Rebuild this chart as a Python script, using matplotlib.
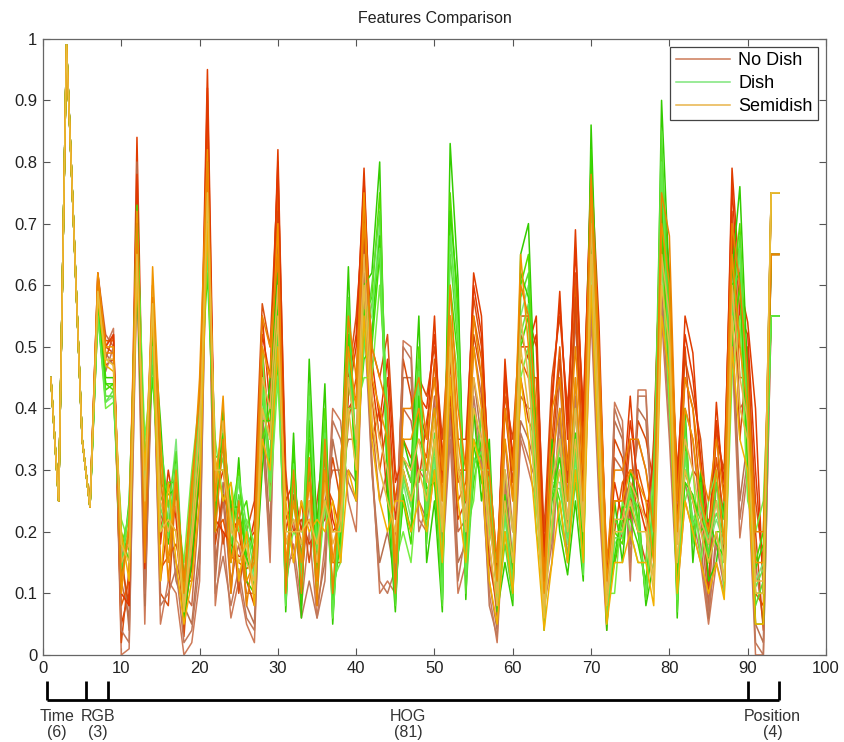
import numpy as np
import matplotlib
matplotlib.use("Agg")
import matplotlib.pyplot as plt
import matplotlib.transforms as mtransforms

plt.rcParams['font.family'] = ['Liberation Sans', 'DejaVu Sans']

# Features 1-6 (time) are the same for every sample
TIME = [0.45, 0.25, 0.99, 0.67, 0.35, 0.24]

# Normalised feature values for features 7..94 (RGB, HOG, position)
nodish_1 = TIME + [
    0.58, 0.50, 0.53, 0.00, 0.01, 0.62, 0.05, 0.55, 0.05, 0.12,
    0.10, 0.00, 0.02, 0.12, 0.78, 0.08, 0.20, 0.06, 0.12, 0.05,
    0.02, 0.38, 0.15, 0.62, 0.12, 0.18, 0.08, 0.20, 0.06, 0.18,
    0.40, 0.38, 0.25, 0.20, 0.58, 0.32, 0.10, 0.12, 0.10, 0.51,
    0.50, 0.22, 0.20, 0.30, 0.15, 0.35, 0.10, 0.15, 0.40, 0.30,
    0.10, 0.02, 0.25, 0.10, 0.35, 0.30, 0.25, 0.08, 0.15, 0.35,
    0.15, 0.40, 0.20, 0.55, 0.25, 0.04, 0.41, 0.38, 0.12, 0.43,
    0.43, 0.15, 0.55, 0.35, 0.10, 0.25, 0.20, 0.15, 0.05, 0.15,
    0.10, 0.50, 0.19, 0.30, 0.00, 0.00, 0.55, 0.55]
nodish_2 = TIME + [
    0.60, 0.47, 0.48, 0.05, 0.10, 0.84, 0.20, 0.60, 0.18, 0.30,
    0.22, 0.06, 0.15, 0.35, 0.95, 0.25, 0.30, 0.20, 0.22, 0.18,
    0.20, 0.55, 0.40, 0.82, 0.25, 0.28, 0.20, 0.30, 0.18, 0.30,
    0.20, 0.22, 0.42, 0.50, 0.79, 0.45, 0.35, 0.45, 0.22, 0.30,
    0.25, 0.40, 0.35, 0.55, 0.28, 0.52, 0.30, 0.30, 0.62, 0.55,
    0.25, 0.10, 0.48, 0.30, 0.50, 0.50, 0.55, 0.15, 0.40, 0.59,
    0.35, 0.69, 0.35, 0.80, 0.54, 0.12, 0.25, 0.25, 0.42, 0.25,
    0.20, 0.30, 0.77, 0.62, 0.25, 0.55, 0.49, 0.30, 0.15, 0.41,
    0.25, 0.79, 0.60, 0.54, 0.40, 0.10, 0.65, 0.65]
nodish_3 = TIME + [
    0.62, 0.52, 0.50, 0.12, 0.06, 0.72, 0.12, 0.52, 0.28, 0.20,
    0.15, 0.10, 0.08, 0.25, 0.85, 0.15, 0.25, 0.12, 0.18, 0.10,
    0.10, 0.45, 0.30, 0.70, 0.18, 0.22, 0.12, 0.25, 0.12, 0.25,
    0.30, 0.30, 0.35, 0.35, 0.68, 0.38, 0.25, 0.30, 0.15, 0.40,
    0.38, 0.30, 0.28, 0.42, 0.20, 0.45, 0.20, 0.22, 0.50, 0.42,
    0.18, 0.06, 0.35, 0.20, 0.42, 0.40, 0.40, 0.12, 0.28, 0.45,
    0.25, 0.55, 0.28, 0.65, 0.40, 0.08, 0.32, 0.30, 0.25, 0.35,
    0.30, 0.22, 0.65, 0.45, 0.18, 0.40, 0.35, 0.22, 0.08, 0.28,
    0.18, 0.65, 0.40, 0.42, 0.15, 0.05, 0.75, 0.75]
nodish_4 = TIME + [
    0.56, 0.48, 0.52, 0.02, 0.14, 0.66, 0.28, 0.58, 0.10, 0.08,
    0.28, 0.03, 0.20, 0.40, 0.80, 0.30, 0.18, 0.25, 0.10, 0.20,
    0.25, 0.57, 0.50, 0.78, 0.30, 0.15, 0.25, 0.15, 0.25, 0.35,
    0.15, 0.15, 0.45, 0.55, 0.72, 0.50, 0.45, 0.52, 0.30, 0.25,
    0.20, 0.45, 0.42, 0.50, 0.35, 0.55, 0.35, 0.35, 0.58, 0.50,
    0.30, 0.15, 0.42, 0.35, 0.55, 0.55, 0.50, 0.20, 0.45, 0.55,
    0.40, 0.62, 0.40, 0.75, 0.48, 0.15, 0.15, 0.20, 0.35, 0.20,
    0.15, 0.35, 0.72, 0.55, 0.30, 0.48, 0.42, 0.35, 0.20, 0.35,
    0.30, 0.72, 0.50, 0.48, 0.25, 0.15, 0.55, 0.55]
nodish_5 = TIME + [
    0.59, 0.49, 0.47, 0.18, 0.04, 0.80, 0.08, 0.50, 0.22, 0.25,
    0.12, 0.08, 0.05, 0.18, 0.90, 0.12, 0.28, 0.10, 0.25, 0.08,
    0.05, 0.40, 0.20, 0.65, 0.10, 0.30, 0.10, 0.32, 0.08, 0.15,
    0.35, 0.28, 0.30, 0.28, 0.62, 0.30, 0.15, 0.20, 0.12, 0.45,
    0.45, 0.25, 0.22, 0.35, 0.18, 0.40, 0.15, 0.18, 0.45, 0.35,
    0.12, 0.04, 0.30, 0.15, 0.38, 0.35, 0.30, 0.10, 0.20, 0.40,
    0.20, 0.45, 0.22, 0.60, 0.30, 0.06, 0.38, 0.35, 0.18, 0.40,
    0.38, 0.18, 0.60, 0.40, 0.12, 0.30, 0.25, 0.18, 0.06, 0.20,
    0.12, 0.55, 0.25, 0.35, 0.05, 0.02, 0.65, 0.65]
nodish_6 = TIME + [
    0.61, 0.51, 0.51, 0.08, 0.12, 0.70, 0.16, 0.57, 0.14, 0.16,
    0.18, 0.12, 0.12, 0.30, 0.88, 0.20, 0.22, 0.16, 0.15, 0.14,
    0.15, 0.50, 0.35, 0.75, 0.22, 0.25, 0.18, 0.22, 0.15, 0.28,
    0.25, 0.20, 0.38, 0.45, 0.75, 0.42, 0.30, 0.38, 0.25, 0.35,
    0.32, 0.35, 0.32, 0.48, 0.25, 0.48, 0.25, 0.28, 0.55, 0.48,
    0.22, 0.12, 0.45, 0.25, 0.48, 0.45, 0.45, 0.14, 0.35, 0.50,
    0.30, 0.60, 0.32, 0.72, 0.45, 0.10, 0.20, 0.28, 0.30, 0.30,
    0.25, 0.25, 0.70, 0.50, 0.20, 0.45, 0.40, 0.25, 0.12, 0.32,
    0.22, 0.70, 0.45, 0.45, 0.10, 0.08, 0.75, 0.75]
nodish_7 = TIME + [
    0.57, 0.50, 0.49, 0.15, 0.08, 0.75, 0.22, 0.54, 0.12, 0.22,
    0.20, 0.05, 0.18, 0.28, 0.82, 0.18, 0.26, 0.22, 0.20, 0.12,
    0.08, 0.48, 0.25, 0.72, 0.28, 0.20, 0.22, 0.18, 0.20, 0.22,
    0.32, 0.25, 0.40, 0.42, 0.70, 0.35, 0.40, 0.25, 0.18, 0.48,
    0.42, 0.28, 0.38, 0.45, 0.30, 0.42, 0.22, 0.25, 0.52, 0.45,
    0.15, 0.08, 0.40, 0.28, 0.45, 0.38, 0.35, 0.18, 0.32, 0.48,
    0.28, 0.58, 0.25, 0.68, 0.35, 0.08, 0.35, 0.32, 0.22, 0.38,
    0.35, 0.28, 0.68, 0.42, 0.22, 0.50, 0.30, 0.28, 0.10, 0.38,
    0.15, 0.68, 0.35, 0.50, 0.20, 0.04, 0.65, 0.65]
nodish_8 = TIME + [
    0.55, 0.46, 0.50, 0.04, 0.02, 0.64, 0.10, 0.53, 0.08, 0.10,
    0.14, 0.02, 0.04, 0.15, 0.76, 0.10, 0.16, 0.08, 0.14, 0.06,
    0.04, 0.35, 0.18, 0.60, 0.15, 0.16, 0.06, 0.12, 0.06, 0.12,
    0.38, 0.35, 0.28, 0.25, 0.55, 0.30, 0.12, 0.10, 0.14, 0.50,
    0.48, 0.20, 0.24, 0.32, 0.16, 0.38, 0.12, 0.20, 0.42, 0.32,
    0.08, 0.03, 0.28, 0.12, 0.36, 0.32, 0.28, 0.10, 0.18, 0.38,
    0.18, 0.42, 0.24, 0.58, 0.28, 0.05, 0.40, 0.36, 0.15, 0.42,
    0.42, 0.16, 0.58, 0.38, 0.14, 0.28, 0.22, 0.16, 0.07, 0.18,
    0.11, 0.52, 0.22, 0.32, 0.02, 0.00, 0.55, 0.55]
nodish_9 = TIME + [
    0.62, 0.50, 0.52, 0.10, 0.08, 0.78, 0.14, 0.59, 0.20, 0.28,
    0.24, 0.09, 0.14, 0.32, 0.92, 0.22, 0.20, 0.18, 0.16, 0.16,
    0.22, 0.52, 0.45, 0.80, 0.20, 0.26, 0.16, 0.28, 0.22, 0.32,
    0.22, 0.18, 0.44, 0.52, 0.77, 0.48, 0.38, 0.48, 0.28, 0.32,
    0.28, 0.42, 0.40, 0.52, 0.32, 0.50, 0.28, 0.32, 0.60, 0.52,
    0.28, 0.14, 0.46, 0.32, 0.52, 0.48, 0.52, 0.16, 0.42, 0.57,
    0.38, 0.66, 0.38, 0.78, 0.50, 0.13, 0.28, 0.22, 0.38, 0.28,
    0.22, 0.32, 0.75, 0.58, 0.28, 0.52, 0.45, 0.32, 0.18, 0.38,
    0.28, 0.76, 0.55, 0.52, 0.30, 0.12, 0.75, 0.75]

dish_1 = TIME + [
    0.57, 0.41, 0.42, 0.15, 0.20, 0.66, 0.25, 0.50, 0.30, 0.22,
    0.35, 0.08, 0.20, 0.35, 0.70, 0.25, 0.35, 0.20, 0.28, 0.18,
    0.12, 0.40, 0.35, 0.55, 0.08, 0.30, 0.10, 0.40, 0.15, 0.35,
    0.08, 0.22, 0.50, 0.30, 0.52, 0.55, 0.70, 0.30, 0.10, 0.28,
    0.22, 0.45, 0.20, 0.32, 0.10, 0.70, 0.52, 0.12, 0.32, 0.30,
    0.30, 0.10, 0.22, 0.12, 0.55, 0.60, 0.28, 0.08, 0.28, 0.28,
    0.18, 0.32, 0.15, 0.75, 0.38, 0.06, 0.18, 0.20, 0.25, 0.20,
    0.10, 0.22, 0.78, 0.50, 0.10, 0.32, 0.22, 0.25, 0.18, 0.22,
    0.18, 0.55, 0.65, 0.35, 0.12, 0.15, 0.55, 0.55]
dish_2 = TIME + [
    0.55, 0.43, 0.44, 0.20, 0.15, 0.73, 0.30, 0.45, 0.25, 0.28,
    0.28, 0.12, 0.25, 0.40, 0.62, 0.30, 0.30, 0.25, 0.22, 0.25,
    0.15, 0.45, 0.30, 0.48, 0.12, 0.25, 0.15, 0.30, 0.12, 0.30,
    0.10, 0.18, 0.45, 0.35, 0.48, 0.50, 0.65, 0.35, 0.12, 0.25,
    0.18, 0.40, 0.25, 0.35, 0.12, 0.60, 0.48, 0.15, 0.28, 0.35,
    0.25, 0.12, 0.25, 0.15, 0.50, 0.55, 0.25, 0.10, 0.25, 0.30,
    0.20, 0.35, 0.18, 0.70, 0.35, 0.08, 0.15, 0.22, 0.22, 0.18,
    0.12, 0.25, 0.70, 0.45, 0.12, 0.30, 0.25, 0.22, 0.20, 0.25,
    0.15, 0.50, 0.60, 0.30, 0.15, 0.20, 0.55, 0.55]
dish_3 = TIME + [
    0.58, 0.45, 0.45, 0.13, 0.25, 0.62, 0.20, 0.55, 0.38, 0.18,
    0.32, 0.06, 0.15, 0.30, 0.80, 0.20, 0.40, 0.15, 0.32, 0.12,
    0.10, 0.30, 0.45, 0.62, 0.07, 0.36, 0.06, 0.48, 0.20, 0.44,
    0.05, 0.28, 0.63, 0.25, 0.60, 0.62, 0.80, 0.25, 0.07, 0.35,
    0.30, 0.55, 0.15, 0.25, 0.07, 0.83, 0.61, 0.09, 0.40, 0.25,
    0.35, 0.07, 0.15, 0.08, 0.65, 0.70, 0.35, 0.04, 0.35, 0.20,
    0.13, 0.25, 0.12, 0.86, 0.45, 0.04, 0.25, 0.15, 0.30, 0.25,
    0.08, 0.15, 0.90, 0.60, 0.06, 0.40, 0.15, 0.30, 0.12, 0.15,
    0.25, 0.62, 0.76, 0.45, 0.05, 0.05, 0.65, 0.65]
dish_4 = TIME + [
    0.56, 0.40, 0.41, 0.22, 0.18, 0.70, 0.35, 0.48, 0.20, 0.25,
    0.25, 0.15, 0.30, 0.42, 0.65, 0.35, 0.25, 0.28, 0.20, 0.22,
    0.18, 0.50, 0.25, 0.45, 0.15, 0.20, 0.18, 0.25, 0.10, 0.25,
    0.12, 0.15, 0.40, 0.40, 0.45, 0.45, 0.60, 0.40, 0.15, 0.20,
    0.15, 0.30, 0.30, 0.40, 0.15, 0.55, 0.45, 0.20, 0.25, 0.40,
    0.20, 0.15, 0.30, 0.20, 0.45, 0.50, 0.20, 0.12, 0.20, 0.35,
    0.25, 0.40, 0.20, 0.65, 0.30, 0.10, 0.10, 0.25, 0.20, 0.15,
    0.15, 0.30, 0.65, 0.40, 0.15, 0.25, 0.30, 0.15, 0.25, 0.30,
    0.10, 0.45, 0.55, 0.25, 0.20, 0.25, 0.55, 0.55]
dish_5 = TIME + [
    0.57, 0.44, 0.43, 0.18, 0.22, 0.68, 0.28, 0.52, 0.33, 0.20,
    0.30, 0.10, 0.22, 0.38, 0.75, 0.28, 0.38, 0.22, 0.30, 0.15,
    0.14, 0.35, 0.40, 0.58, 0.10, 0.33, 0.12, 0.35, 0.18, 0.40,
    0.06, 0.30, 0.55, 0.28, 0.55, 0.58, 0.75, 0.32, 0.09, 0.30,
    0.25, 0.50, 0.22, 0.30, 0.09, 0.75, 0.55, 0.14, 0.35, 0.32,
    0.28, 0.09, 0.20, 0.10, 0.60, 0.65, 0.30, 0.06, 0.30, 0.25,
    0.15, 0.30, 0.14, 0.80, 0.40, 0.05, 0.20, 0.18, 0.28, 0.22,
    0.09, 0.20, 0.82, 0.55, 0.08, 0.35, 0.20, 0.28, 0.15, 0.20,
    0.20, 0.58, 0.70, 0.40, 0.10, 0.10, 0.75, 0.75]
dish_6 = TIME + [
    0.56, 0.42, 0.42, 0.17, 0.23, 0.64, 0.32, 0.47, 0.35, 0.24,
    0.33, 0.09, 0.28, 0.37, 0.68, 0.32, 0.33, 0.18, 0.26, 0.20,
    0.16, 0.42, 0.32, 0.52, 0.09, 0.28, 0.14, 0.44, 0.16, 0.38,
    0.07, 0.25, 0.58, 0.32, 0.50, 0.60, 0.72, 0.36, 0.08, 0.32,
    0.28, 0.48, 0.18, 0.36, 0.08, 0.65, 0.50, 0.10, 0.30, 0.38,
    0.32, 0.08, 0.18, 0.09, 0.58, 0.62, 0.26, 0.05, 0.32, 0.22,
    0.16, 0.28, 0.16, 0.78, 0.42, 0.05, 0.22, 0.20, 0.26, 0.24,
    0.09, 0.28, 0.85, 0.52, 0.07, 0.38, 0.18, 0.26, 0.16, 0.28,
    0.22, 0.52, 0.68, 0.38, 0.08, 0.12, 0.55, 0.55]
dish_7 = TIME + [
    0.58, 0.44, 0.44, 0.19, 0.17, 0.71, 0.22, 0.53, 0.28, 0.26,
    0.27, 0.13, 0.18, 0.33, 0.72, 0.22, 0.36, 0.24, 0.24, 0.16,
    0.11, 0.38, 0.38, 0.56, 0.11, 0.34, 0.09, 0.38, 0.14, 0.33,
    0.09, 0.20, 0.52, 0.27, 0.56, 0.52, 0.68, 0.28, 0.11, 0.26,
    0.20, 0.42, 0.27, 0.28, 0.11, 0.72, 0.58, 0.16, 0.34, 0.28,
    0.26, 0.11, 0.26, 0.14, 0.62, 0.58, 0.32, 0.09, 0.26, 0.32,
    0.22, 0.36, 0.17, 0.82, 0.36, 0.07, 0.16, 0.24, 0.24, 0.20,
    0.11, 0.18, 0.75, 0.48, 0.11, 0.28, 0.26, 0.20, 0.22, 0.18,
    0.16, 0.60, 0.62, 0.32, 0.14, 0.18, 0.55, 0.55]
dish_8 = TIME + [
    0.55, 0.41, 0.43, 0.14, 0.24, 0.65, 0.27, 0.50, 0.24, 0.19,
    0.31, 0.07, 0.24, 0.40, 0.66, 0.27, 0.32, 0.21, 0.29, 0.21,
    0.13, 0.44, 0.28, 0.50, 0.08, 0.31, 0.11, 0.42, 0.17, 0.36,
    0.06, 0.24, 0.48, 0.34, 0.50, 0.57, 0.66, 0.33, 0.10, 0.29,
    0.24, 0.46, 0.23, 0.34, 0.09, 0.68, 0.53, 0.13, 0.31, 0.33,
    0.28, 0.09, 0.23, 0.11, 0.52, 0.57, 0.29, 0.07, 0.27, 0.27,
    0.19, 0.33, 0.13, 0.72, 0.39, 0.06, 0.19, 0.19, 0.27, 0.21,
    0.10, 0.24, 0.80, 0.46, 0.09, 0.33, 0.21, 0.24, 0.19, 0.23,
    0.19, 0.56, 0.66, 0.36, 0.11, 0.14, 0.55, 0.55]

semidish_1 = TIME + [
    0.60, 0.48, 0.48, 0.15, 0.18, 0.68, 0.22, 0.60, 0.25, 0.20,
    0.25, 0.08, 0.20, 0.38, 0.78, 0.28, 0.38, 0.20, 0.18, 0.15,
    0.12, 0.45, 0.40, 0.60, 0.18, 0.22, 0.18, 0.25, 0.15, 0.28,
    0.18, 0.22, 0.45, 0.35, 0.65, 0.42, 0.35, 0.30, 0.18, 0.32,
    0.30, 0.35, 0.28, 0.38, 0.22, 0.52, 0.32, 0.22, 0.45, 0.38,
    0.22, 0.10, 0.30, 0.20, 0.55, 0.45, 0.30, 0.08, 0.28, 0.35,
    0.22, 0.40, 0.22, 0.70, 0.40, 0.10, 0.22, 0.22, 0.28, 0.25,
    0.22, 0.12, 0.65, 0.55, 0.18, 0.35, 0.30, 0.22, 0.18, 0.25,
    0.15, 0.60, 0.45, 0.38, 0.12, 0.12, 0.75, 0.75]
semidish_2 = TIME + [
    0.62, 0.50, 0.50, 0.10, 0.22, 0.72, 0.18, 0.63, 0.35, 0.15,
    0.30, 0.10, 0.25, 0.45, 0.82, 0.25, 0.42, 0.15, 0.22, 0.12,
    0.15, 0.50, 0.45, 0.70, 0.15, 0.25, 0.15, 0.28, 0.12, 0.30,
    0.15, 0.25, 0.50, 0.40, 0.75, 0.45, 0.40, 0.35, 0.15, 0.35,
    0.35, 0.40, 0.30, 0.40, 0.25, 0.55, 0.35, 0.25, 0.50, 0.40,
    0.25, 0.12, 0.35, 0.25, 0.65, 0.50, 0.35, 0.10, 0.32, 0.40,
    0.25, 0.45, 0.25, 0.75, 0.45, 0.12, 0.25, 0.25, 0.30, 0.28,
    0.25, 0.15, 0.70, 0.60, 0.20, 0.40, 0.35, 0.25, 0.20, 0.30,
    0.18, 0.65, 0.50, 0.40, 0.15, 0.15, 0.65, 0.65]
semidish_3 = TIME + [
    0.58, 0.47, 0.46, 0.20, 0.12, 0.62, 0.30, 0.55, 0.12, 0.28,
    0.15, 0.05, 0.12, 0.25, 0.70, 0.32, 0.25, 0.28, 0.12, 0.20,
    0.08, 0.35, 0.30, 0.50, 0.25, 0.15, 0.25, 0.20, 0.22, 0.20,
    0.25, 0.15, 0.30, 0.25, 0.55, 0.35, 0.25, 0.20, 0.25, 0.25,
    0.20, 0.25, 0.20, 0.30, 0.15, 0.45, 0.25, 0.15, 0.35, 0.30,
    0.12, 0.05, 0.20, 0.10, 0.45, 0.35, 0.20, 0.04, 0.15, 0.25,
    0.15, 0.30, 0.15, 0.60, 0.30, 0.05, 0.15, 0.15, 0.20, 0.15,
    0.15, 0.08, 0.55, 0.45, 0.10, 0.25, 0.20, 0.15, 0.10, 0.15,
    0.09, 0.50, 0.35, 0.30, 0.05, 0.05, 0.75, 0.75]
semidish_4 = TIME + [
    0.61, 0.49, 0.49, 0.12, 0.20, 0.70, 0.15, 0.58, 0.30, 0.12,
    0.28, 0.12, 0.28, 0.42, 0.80, 0.20, 0.35, 0.10, 0.25, 0.08,
    0.18, 0.55, 0.50, 0.65, 0.10, 0.30, 0.10, 0.32, 0.08, 0.35,
    0.10, 0.30, 0.55, 0.45, 0.70, 0.50, 0.45, 0.40, 0.10, 0.40,
    0.40, 0.45, 0.35, 0.45, 0.30, 0.60, 0.40, 0.30, 0.55, 0.45,
    0.30, 0.15, 0.40, 0.30, 0.60, 0.55, 0.40, 0.12, 0.40, 0.45,
    0.30, 0.50, 0.30, 0.78, 0.50, 0.15, 0.30, 0.30, 0.35, 0.35,
    0.30, 0.20, 0.75, 0.68, 0.25, 0.45, 0.40, 0.30, 0.25, 0.35,
    0.25, 0.70, 0.60, 0.45, 0.20, 0.20, 0.65, 0.65]
semidish_5 = TIME + [
    0.59, 0.48, 0.47, 0.18, 0.15, 0.65, 0.25, 0.57, 0.20, 0.22,
    0.20, 0.07, 0.18, 0.32, 0.75, 0.30, 0.30, 0.22, 0.15, 0.18,
    0.10, 0.40, 0.35, 0.55, 0.20, 0.20, 0.20, 0.22, 0.18, 0.25,
    0.20, 0.20, 0.40, 0.30, 0.60, 0.38, 0.30, 0.25, 0.20, 0.30,
    0.25, 0.30, 0.25, 0.35, 0.20, 0.50, 0.30, 0.20, 0.40, 0.35,
    0.18, 0.08, 0.25, 0.15, 0.50, 0.40, 0.25, 0.06, 0.22, 0.30,
    0.20, 0.35, 0.20, 0.65, 0.35, 0.08, 0.20, 0.20, 0.25, 0.20,
    0.20, 0.10, 0.60, 0.50, 0.15, 0.30, 0.25, 0.20, 0.15, 0.20,
    0.12, 0.55, 0.40, 0.35, 0.10, 0.10, 0.75, 0.75]

nodish_lines = [nodish_1, nodish_2, nodish_3, nodish_4, nodish_5,
                nodish_6, nodish_7, nodish_8, nodish_9]
dish_lines = [dish_1, dish_2, dish_3, dish_4, dish_5, dish_6, dish_7, dish_8]
semidish_lines = [semidish_1, semidish_2, semidish_3, semidish_4, semidish_5]

nodish_colors = ['#cd7a58', '#e03c00', '#c86a46', '#d85010', '#b8704e',
                 '#e65a00', '#d84a08', '#c0785a', '#e23800']
dish_colors = ['#7ee67a', '#44dd00', '#33cc00', '#77ee44', '#55e000',
               '#5ae030', '#3ad800', '#66e84a']
semidish_colors = ['#e8b44a', '#f09400', '#f2b000', '#ec8400', '#e8bc3c']

class_names = ['No Dish', 'Dish', 'Semidish']

# Feature groups drawn as a bracket under the x axis
group_names = ['Time\n(6)', 'RGB\n(3)', 'HOG\n(81)', 'Position\n(4)']
group_label_x = [1.8, 7.0, 46.6, 93.2]
group_edges = [0.5, 5.5, 8.3, 90.0, 94.0]

features = np.arange(1, 95)

fig = plt.figure(figsize=(8.45, 7.42), dpi=100)
ax = fig.add_axes([0.0509, 0.1173, 0.9266, 0.8305])

handles = []
for lines, colors, name in [(nodish_lines, nodish_colors, class_names[0]),
                            (dish_lines, dish_colors, class_names[1]),
                            (semidish_lines, semidish_colors, class_names[2])]:
    for i, (vals, c) in enumerate(zip(lines, colors)):
        ln, = ax.plot(features, vals, color=c, lw=1.1)
        if i == 0:
            ln.set_label(name)
            handles.append(ln)

ax.set_xlim(0, 100)
ax.set_ylim(0, 1)
ax.set_xticks(np.arange(0, 101, 10))
ax.set_yticks(np.arange(0, 1.01, 0.1))
ax.set_yticklabels(['0', '0.1', '0.2', '0.3', '0.4', '0.5',
                    '0.6', '0.7', '0.8', '0.9', '1'])
ax.tick_params(direction='in', length=5, width=0.8, top=True, right=True,
               labelsize=12, colors='#555555', labelcolor='#222222', pad=4)
for sp in ax.spines.values():
    sp.set_color('#666666')
    sp.set_linewidth(0.9)

ax.set_title('Features Comparison', fontsize=11.5, color='#222222', pad=11)

leg = ax.legend(handles=handles, loc='upper right', fontsize=13,
                handlelength=3.0, handletextpad=0.45, borderpad=0.3,
                labelspacing=0.32, borderaxespad=0.45, fancybox=False,
                framealpha=1)
leg.get_frame().set_edgecolor('#444444')
leg.get_frame().set_linewidth(0.9)

# Bracket showing the feature groups
trans = mtransforms.blended_transform_factory(ax.transData, ax.transAxes)
y_line = -0.073
y_tick_top = -0.042
ax.plot([group_edges[0], group_edges[-1]], [y_line, y_line], color='black',
        lw=2, transform=trans, clip_on=False, solid_capstyle='butt')
for xe in group_edges:
    ax.plot([xe, xe], [y_line, y_tick_top], color='black', lw=2,
            transform=trans, clip_on=False, solid_capstyle='butt')
for name, xl in zip(group_names, group_label_x):
    ax.text(xl, -0.088, name, transform=trans, ha='center', va='top',
            fontsize=11.5, color='#333333', linespacing=1.05)

fig.savefig('out.png', dpi=100, facecolor='white')
